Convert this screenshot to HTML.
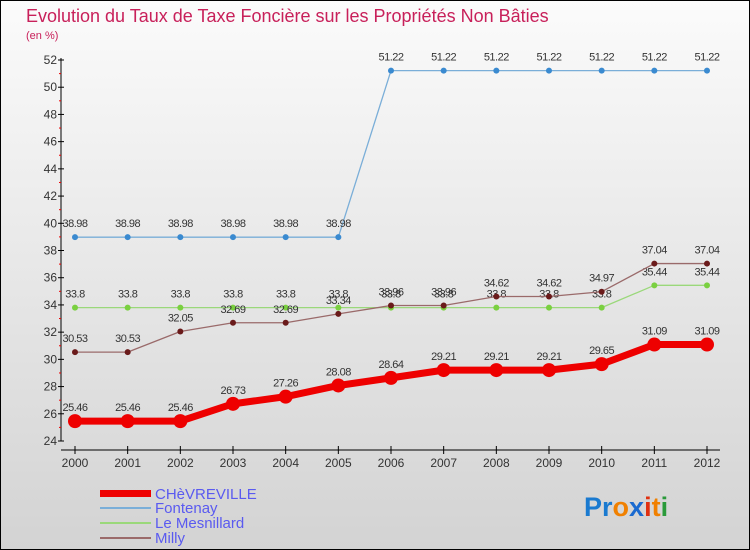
<!DOCTYPE html>
<html><head><meta charset="utf-8"><style>
body{margin:0;width:750px;height:550px;overflow:hidden;font-family:"Liberation Sans",sans-serif}
#c{position:absolute;left:0;top:0;width:748px;height:548px;border:1px solid #000;background:linear-gradient(#fbfbfb,#d3d3d3)}
</style></head><body>
<div id="c">
<svg id="s" width="750" height="550" style="position:absolute;left:-1px;top:-1px">
<text x="26" y="22" font-size="18" fill="#c8205a">Evolution du Taux de Taxe Foncière sur les Propriétés Non Bâties</text>
<text x="26" y="39" font-size="11" fill="#c8205a">(en %)</text>
<g id="axes"></g><g id="series"></g>
<g font-size="15" fill="#5a5af0">
<rect x="100" y="490" width="51" height="7" fill="#e00"/>
<text x="155" y="499">CHèVREVILLE</text>
<rect x="100" y="507" width="51" height="2" fill="#7aaed8"/>
<text x="155" y="513">Fontenay</text>
<rect x="100" y="522" width="51" height="2" fill="#9ad87a"/>
<text x="155" y="528">Le Mesnillard</text>
<rect x="100" y="537" width="51" height="2" fill="#9a6a6a"/>
<text x="155" y="543">Milly</text>
</g>
<g font-size="27" font-weight="bold">
<text x="584" y="516"><tspan fill="#1a7ad0">Pr</tspan><tspan fill="#f08000">o</tspan><tspan fill="#1a6ad0">x</tspan><tspan fill="#e03010">i</tspan><tspan fill="#f08000">t</tspan><tspan fill="#2a9a3a">i</tspan></text>
</g>
</svg></div>
<script>
const years=["2000","2001","2002","2003","2004","2005","2006","2007","2008","2009","2010","2011","2012"];
const yTicks=[24,26,28,30,32,34,36,38,40,42,44,46,48,50,52];
const chevreville=[25.46,25.46,25.46,26.73,27.26,28.08,28.64,29.21,29.21,29.21,29.65,31.09,31.09];
const fontenay=[38.98,38.98,38.98,38.98,38.98,38.98,51.22,51.22,51.22,51.22,51.22,51.22,51.22];
const mesnillard=[33.8,33.8,33.8,33.8,33.8,33.8,33.8,33.8,33.8,33.8,33.8,35.44,35.44];
const milly=[30.53,30.53,32.05,32.69,32.69,33.34,33.96,33.96,34.62,34.62,34.97,37.04,37.04];
const NS="http://www.w3.org/2000/svg";
const X=i=>75+i*(707-75)/12, Y=v=>441-(v-24)*(441-60)/28;
function mk(t,a,p){const e=document.createElementNS(NS,t);for(const k in a)e.setAttribute(k,a[k]);p.appendChild(e);return e;}
const ax=document.getElementById('axes');
let l=mk('line',{x1:61,y1:58,x2:61,y2:441,stroke:'#000'},ax);


l=mk('line',{x1:61,y1:450,x2:720,y2:450,stroke:'#000'},ax);


yTicks.forEach(v=>{mk('line',{x1:58,x2:64,y1:Y(v),y2:Y(v),stroke:'#000'},ax);
 if(v<52)mk('line',{x1:59,x2:61,y1:Y(v+1),y2:Y(v+1),stroke:'#e00'},ax);
 const t=mk('text',{x:57,y:Y(v)+4,'font-size':12,'text-anchor':'end',fill:'#333'},ax);t.textContent=v;
 
 });
years.forEach((y,i)=>{mk('line',{x1:X(i),x2:X(i),y1:446,y2:454,stroke:'#000'},ax);
 const t=mk('text',{x:X(i),y:467,'font-size':12,'text-anchor':'middle',fill:'#333'},ax);t.textContent=y;
 
 });
const sg=document.getElementById('series');
function series(d,name,col,w,r,dot){const g=mk('g',{},sg);
 
 
 mk('polyline',{points:d.map((v,i)=>X(i)+','+Y(v)).join(' '),fill:'none',stroke:col,'stroke-width':w,'stroke-linejoin':'round'},g);
 d.forEach((v,i)=>{const c=mk('circle',{cx:X(i),cy:Y(v),r:r,fill:dot},g);
  
  
  const t=mk('text',{x:X(i),y:Y(v)-10,'font-size':11,'text-anchor':'middle',fill:'#333','letter-spacing':'-0.5'},g);t.textContent=v;});}
series(fontenay,'fontenay','#7aaed8',1.3,3,'#3a8ad0');
series(mesnillard,'le-mesnillard','#9ad87a',1.3,3,'#7ad040');
series(milly,'milly','#9a6a6a',1.3,3,'#6a1a1a');
series(chevreville,'chevreville','#e00',7,7,'#e00');
</script>
</body></html>
